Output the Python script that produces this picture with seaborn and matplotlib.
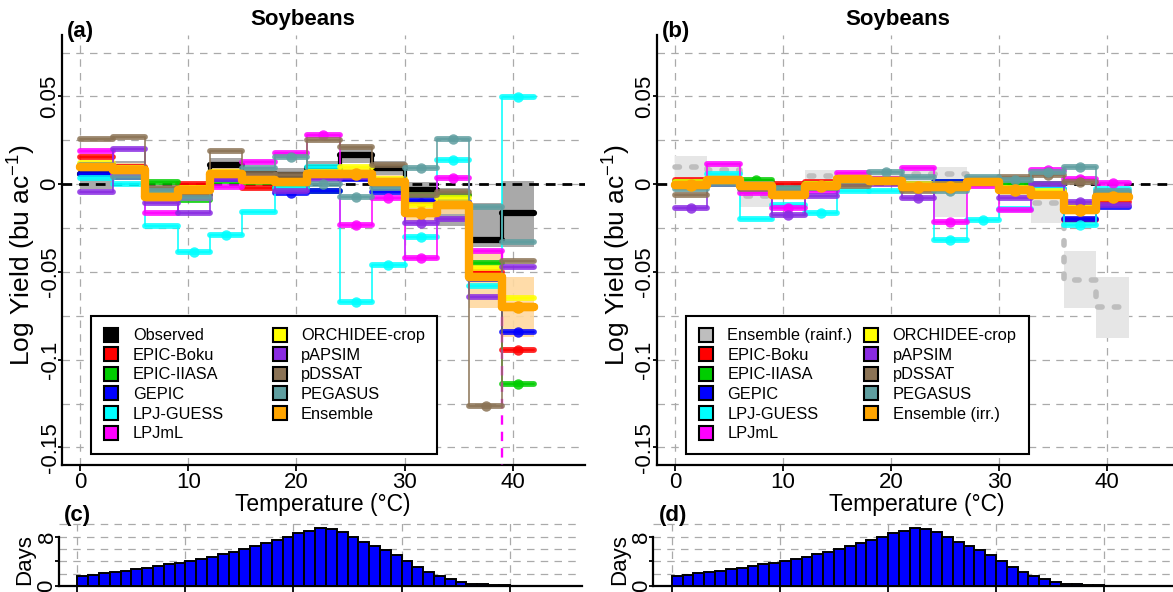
import numpy as np
import matplotlib
matplotlib.use("Agg")
import matplotlib.pyplot as plt
import seaborn as sns
from matplotlib.lines import Line2D
from matplotlib.ticker import MultipleLocator

# --------------------------------------------------
# Data
# --------------------------------------------------
temp_edges = [0, 3, 6, 9, 12, 15, 18, 21, 24, 27, 30, 33, 36, 39, 42]
temp_mid = [1.5, 4.5, 7.5, 10.5, 13.5, 16.5, 19.5, 22.5, 25.5, 28.5, 31.5, 34.5, 37.5, 40.5]

models = ["EPIC-Boku", "EPIC-IIASA", "GEPIC", "LPJ-GUESS", "LPJmL",
          "ORCHIDEE-crop", "pAPSIM", "pDSSAT", "PEGASUS"]
colors = {
    "Observed": "#000000",
    "EPIC-Boku": "#ff0000",
    "EPIC-IIASA": "#00cd00",
    "GEPIC": "#0000ff",
    "LPJ-GUESS": "#00ffff",
    "LPJmL": "#ff00ff",
    "ORCHIDEE-crop": "#ffff00",
    "pAPSIM": "#8a2be2",
    "pDSSAT": "#8b7355",
    "PEGASUS": "#5f9ea0",
    "Ensemble": "#ffa500",
    "Ensemble (irr.)": "#ffa500",
    "Ensemble (rainf.)": "#bebebe",
}

# panel (a): rainfed, observed vs models
obs_a = [0.006, 0.009, -0.005, -0.004, 0.011, 0.006, 0.005, 0.009, 0.0165, 0.009, -0.0034, -0.012, -0.032, -0.0167]
obs_lo_a = [-0.003, 0.004, -0.009, -0.008, 0.007, 0.002, 0.001, 0.005, 0.012, 0.005, -0.008, -0.024, -0.036, -0.036]
obs_hi_a = [0.012, 0.013, -0.001, 0.000, 0.015, 0.010, 0.009, 0.013, 0.021, 0.013, 0.001, -0.002, -0.011, 0.002]
ens_a = [0.0098, 0.008, -0.0072, -0.0034, 0.006, 0.0023, 0.001, 0.006, 0.006, 0.0013, -0.0167, -0.012, -0.053, -0.070]
ens_lo_a = [0.006, 0.004, -0.011, -0.007, 0.002, -0.001, -0.002, 0.002, 0.002, -0.002, -0.021, -0.017, -0.0705, -0.087]
ens_hi_a = [0.014, 0.012, -0.003, 0.000, 0.010, 0.006, 0.004, 0.010, 0.010, 0.005, -0.012, -0.007, -0.0375, -0.053]
boku_a = [0.0155, 0.010, -0.004, 0.000, 0.004, -0.0023, -0.002, 0.004, 0.0034, 0.000, -0.011, -0.006, -0.050, -0.0947]
iiasa_a = [0.011, 0.006, 0.001, -0.009, 0.002, 0.001, -0.002, -0.004, 0.004, 0.000, -0.0063, -0.0063, -0.045, -0.1138]
gepic_a = [0.006, 0.004, -0.006, -0.006, 0.003, 0.002, -0.005, -0.004, 0.003, -0.0044, -0.009, -0.010, -0.054, -0.084]
guess_a = [0.0034, 0.000, -0.024, -0.0385, -0.029, -0.0157, -0.002, 0.0098, -0.067, -0.046, -0.030, 0.0136, -0.058, 0.0496]
lpjml_a = [0.019, 0.005, -0.0167, -0.008, -0.0015, 0.0127, 0.018, 0.028, -0.0233, -0.008, -0.042, 0.0034, -0.038, -0.25]
orch_a = [0.012, 0.009, -0.004, -0.002, 0.007, 0.004, 0.002, 0.007, 0.010, 0.003, -0.012, -0.008, -0.048, -0.065]
papsim_a = [-0.0046, 0.020, -0.011, -0.0167, 0.003, 0.004, -0.004, 0.003, 0.004, 0.000, -0.022, -0.020, -0.064, -0.047]
pdssat_a = [0.0256, 0.027, -0.002, -0.006, 0.019, 0.006, 0.005, 0.025, 0.021, 0.011, -0.006, -0.0044, -0.1265, -0.0438]
pegasus_a = [0.011, 0.004, -0.004, -0.008, 0.006, 0.009, 0.0155, 0.000, -0.0074, -0.002, 0.009, 0.026, -0.013, -0.0328]
sig_a = {"EPIC-Boku": [10, 13], "EPIC-IIASA": [13], "GEPIC": [6, 13],
         "LPJ-GUESS": [3, 4, 8, 9, 10, 11, 13], "LPJmL": [7, 8, 9, 10, 11],
         "ORCHIDEE-crop": [], "pAPSIM": [10], "pDSSAT": [12],
         "PEGASUS": [6, 7, 8, 10, 11], "Ensemble": [8, 10, 13]}

# panel (b): irrigated
rain_b = [0.0098, 0.008, -0.007, -0.002, 0.0047, 0.002, 0.003, 0.006, 0.006, 0.001, -0.004, -0.011, -0.0545, -0.0697]
rain_lo_b = [-0.007, 0.000, -0.013, -0.006, 0.002, -0.002, -0.001, 0.002, -0.0186, -0.003, -0.008, -0.022, -0.0706, -0.0877]
rain_hi_b = [0.016, 0.012, -0.0015, 0.002, 0.008, 0.006, 0.007, 0.010, 0.0098, 0.005, 0.000, -0.009, -0.038, -0.0527]
irr_b = [-0.0006, 0.0023, -0.001, -0.006, -0.001, 0.0032, 0.002, -0.0015, -0.0015, 0.0013, -0.0034, -0.0063, -0.0148, -0.0072]
boku_b = [0.0023, 0.003, 0.001, 0.000, 0.0013, 0.002, 0.001, -0.001, 0.000, 0.002, -0.003, -0.004, -0.0205, -0.010]
iiasa_b = [0.001, 0.002, 0.0023, -0.003, 0.000, 0.002, 0.003, 0.000, 0.001, 0.001, 0.000, 0.000, -0.015, -0.006]
gepic_b = [-0.001, 0.000, -0.002, -0.004, -0.001, 0.000, 0.001, 0.000, 0.001, 0.000, -0.003, -0.003, -0.020, -0.013]
guess_b = [0.000, 0.006, -0.020, -0.012, -0.0167, -0.004, -0.004, -0.002, -0.0318, -0.0205, -0.014, -0.003, -0.0233, -0.003]
lpjml_b = [0.000, 0.0117, -0.0053, -0.0138, -0.004, 0.0064, 0.003, 0.0092, -0.0214, -0.001, -0.0148, 0.008, 0.0027, 0.0004]
orch_b = [0.001, 0.003, 0.000, -0.004, 0.000, 0.003, 0.002, 0.000, 0.000, 0.002, -0.002, -0.004, -0.012, -0.006]
papsim_b = [-0.0138, 0.000, -0.002, -0.0176, -0.007, 0.000, 0.000, -0.008, -0.002, 0.0023, -0.008, 0.000, -0.010, -0.012]
pdssat_b = [-0.006, 0.001, -0.003, -0.004, -0.002, -0.001, 0.002, -0.004, 0.000, 0.002, 0.004, 0.005, 0.001, -0.005]
pegasus_b = [-0.003, 0.000, 0.000, -0.002, -0.002, 0.002, 0.007, 0.004, -0.004, 0.004, 0.0023, 0.007, 0.0098, -0.004]
sig_b = {"EPIC-Boku": [], "EPIC-IIASA": [2], "GEPIC": [],
         "LPJ-GUESS": [4, 8, 9, 12], "LPJmL": [3, 8, 11, 12, 13],
         "ORCHIDEE-crop": [], "pAPSIM": [0, 3, 7, 12], "pDSSAT": [11, 12],
         "PEGASUS": [6, 8, 10, 11, 12], "Ensemble": [0, 4, 7, 8, 10, 12, 13]}

# panels (c)/(d): days per 1 degC bin
hist_edges = list(range(0, 48))
hist_mid = [t + 0.5 for t in range(0, 47)]
days = [1.68, 1.84, 2.05, 2.27, 2.49, 2.70, 2.97, 3.24, 3.51, 3.78, 4.05, 4.32,
        4.76, 5.14, 5.57, 6.00, 6.49, 6.92, 7.46, 7.89, 8.54, 8.97, 9.35, 9.19,
        8.70, 7.89, 7.19, 6.54, 5.84, 5.03, 4.11, 3.14, 2.32, 1.62, 1.08, 0.65,
        0.38, 0.27, 0.16, 0.10, 0.06, 0.04, 0.03, 0.02, 0.01, 0.01, 0.01]

yticks = [-0.15, -0.1, -0.05, 0, 0.05]
ytick_labels = ["-0.15", "-0.1", "-0.05", "0", "0.05"]
xticks = [0, 10, 20, 30, 40]

# --------------------------------------------------
# Setup
# --------------------------------------------------
sns.set_theme(style="white")
plt.rcParams["font.family"] = ["Liberation Sans", "DejaVu Sans"]
plt.rcParams["mathtext.default"] = "regular"
plt.rcParams["text.color"] = "black"

W, H = 1173, 592
YMIN, YMAX = -0.16, 0.085
XMIN, XMAX = -1.7, 46.7
GRID = dict(color="#aaaaaa", lw=0.9, ls=(0, (6, 5)))

fig = plt.figure(figsize=(W / 100, H / 100), dpi=100)


def add_px_axes(left, top, width, height):
    return fig.add_axes([left / W, 1 - (top + height) / H, width / W, height / H])


def style_main(ax):
    ax.set_xlim(XMIN, XMAX)
    ax.set_ylim(YMIN, YMAX)
    ax.set_axisbelow(True)
    for s in ["top", "right"]:
        ax.spines[s].set_visible(False)
    for s in ["left", "bottom"]:
        ax.spines[s].set_color("black")
        ax.spines[s].set_linewidth(1.6)
    ax.set_xticks(xticks)
    ax.set_xticklabels([str(t) for t in xticks])
    ax.set_yticks(yticks)
    ax.set_yticklabels(ytick_labels, rotation=90, va="center")
    ax.yaxis.set_minor_locator(MultipleLocator(0.025))
    ax.grid(True, which="both", axis="y", **GRID)
    ax.grid(True, which="major", axis="x", **GRID)
    ax.tick_params(which="major", direction="out", width=1.3, labelsize=16,
                   colors="black", left=True, bottom=True)
    ax.tick_params(axis="x", length=4.5, pad=0.5)
    ax.tick_params(axis="y", length=3, pad=-2)
    ax.tick_params(which="minor", length=0)
    ax.set_xlabel("")
    ax.set_ylabel("")


def band(ax, lo, hi, color, alpha=1.0):
    e = np.array(temp_edges, float)
    ax.fill_between(e, np.append(lo, lo[-1]), np.append(hi, hi[-1]), step="post",
                    color=color, alpha=alpha, lw=0, zorder=1.5)


def steps(ax, vals, color, sig=(), lw_h=4.2, lw_v=1.3, alpha=0.85, z=3, ms=7.5):
    y = np.array(vals, float)
    e = np.array(temp_edges, float)
    off = y < YMIN
    n = len(y) if not off.any() else int(np.argmax(off))
    yy = np.append(y[:n], y[n - 1])
    sns.lineplot(x=e[:n + 1], y=yy, drawstyle="steps-post", color=color, lw=lw_v,
                 alpha=alpha, zorder=z, ax=ax, estimator=None)
    lc = ax.hlines(y[:n], e[:n], e[1:n + 1], colors=color, lw=lw_h, alpha=alpha, zorder=z)
    lc.set_capstyle("round")
    if n < len(y):
        ax.plot([e[n], e[n]], [y[n - 1], y[n]], color=color, lw=lw_v * 1.3,
                ls=(0, (4, 3)), zorder=z)
    idx = [i for i in sig if i < n]
    if idx:
        ax.plot(np.array(temp_mid)[idx], y[idx], "o", ms=ms, color=color,
                alpha=alpha, zorder=z, mew=0)


def legend(ax, labels, left_px, top_px, colspace):
    handles = [Line2D([], [], marker="s", ms=10, mfc=colors[l], mec="black",
                      mew=1.5, ls="none") for l in labels]
    leg = ax.legend(handles, labels, ncol=2, loc="upper left",
                    bbox_to_anchor=(left_px / W, 1 - top_px / H),
                    bbox_transform=fig.transFigure, fontsize=11.8, frameon=True,
                    fancybox=False, framealpha=1, edgecolor="black", borderpad=0.75,
                    labelspacing=0.28, handletextpad=0.8, columnspacing=colspace,
                    handlelength=1.0, borderaxespad=0)
    leg.get_frame().set_linewidth(1.5)
    leg.set_zorder(10)


def style_hist(ax):
    sns.histplot(x=hist_mid, weights=days, bins=hist_edges, color="#0000ff",
                 edgecolor="black", linewidth=1.4, alpha=1, ax=ax, zorder=3)
    ax.set_xlim(XMIN, XMAX)
    ax.set_ylim(0, 10.15)
    ax.set_axisbelow(True)
    for s in ["top", "right"]:
        ax.spines[s].set_visible(False)
    for s in ["left", "bottom"]:
        ax.spines[s].set_color("black")
        ax.spines[s].set_linewidth(1.6)
    ax.spines["left"].set_bounds(0, 8)
    ax.set_xticks(xticks)
    ax.set_xticklabels([])
    ax.set_yticks([0, 4, 8])
    ax.set_yticklabels(["0", "", "8"], rotation=90, va="center")
    ax.yaxis.set_minor_locator(MultipleLocator(2))
    ax.grid(True, which="both", axis="y", **GRID)
    ax.grid(True, which="major", axis="x", **GRID)
    ax.tick_params(which="major", direction="out", width=1.3, labelsize=16,
                   colors="black", left=True, bottom=True, length=4.5)
    ax.tick_params(axis="y", length=3, pad=-2)
    ax.tick_params(which="minor", length=0)
    ax.set_xlabel("")
    ax.set_ylabel("")


# --------------------------------------------------
# Panel (a)
# --------------------------------------------------
DX = 594.5
ax_a = add_px_axes(62, 35, 523, 430)
style_main(ax_a)
band(ax_a, obs_lo_a, obs_hi_a, "#a9a9a9")
band(ax_a, ens_lo_a, ens_hi_a, "#ffd9a0", alpha=0.9)
ax_a.axhline(0, color="black", lw=2, ls=(0, (3.5, 2.5)), zorder=2)
steps(ax_a, obs_a, colors["Observed"], (), lw_h=4.5, lw_v=3, alpha=1, z=2.8)
series_a = [boku_a, iiasa_a, gepic_a, guess_a, lpjml_a, orch_a, papsim_a, pdssat_a, pegasus_a]
for name, vals in zip(models, series_a):
    steps(ax_a, vals, colors[name], sig_a[name])
steps(ax_a, ens_a, colors["Ensemble"], sig_a["Ensemble"], lw_h=6, lw_v=6, alpha=1, z=6, ms=9)
legend(ax_a, ["Observed"] + models + ["Ensemble"], 91, 316, 2.9)

# --------------------------------------------------
# Panel (b)
# --------------------------------------------------
ax_b = add_px_axes(62 + DX, 35, 523, 430)
style_main(ax_b)
band(ax_b, rain_lo_b, rain_hi_b, "#e6e6e6")
ax_b.axhline(0, color="black", lw=2, ls=(0, (3.5, 2.5)), zorder=2)
rl = sns.lineplot(x=temp_edges, y=rain_b + [rain_b[-1]], drawstyle="steps-post",
                  color=colors["Ensemble (rainf.)"], lw=4, ls=(0, (0.8, 2.2)),
                  ax=ax_b, estimator=None, zorder=2.5)
rl.lines[-1].set_dash_capstyle("round")
series_b = [boku_b, iiasa_b, gepic_b, guess_b, lpjml_b, orch_b, papsim_b, pdssat_b, pegasus_b]
for name, vals in zip(models, series_b):
    steps(ax_b, vals, colors[name], sig_b[name])
steps(ax_b, irr_b, colors["Ensemble"], sig_b["Ensemble"], lw_h=6, lw_v=6, alpha=1, z=6, ms=9)
legend(ax_b, ["Ensemble (rainf.)"] + models + ["Ensemble (irr.)"], 91 + DX, 316, 0.65)

# --------------------------------------------------
# Panels (c), (d)
# --------------------------------------------------
ax_c = add_px_axes(59, 523.4, 523, 62.6)
style_hist(ax_c)
ax_d = add_px_axes(59 + DX, 523.4, 523, 62.6)
style_hist(ax_d)

# --------------------------------------------------
# Text
# --------------------------------------------------
for off, tag, tag2 in [(0, "(a)", "(c)"), (DX, "(b)", "(d)")]:
    fig.text((303 + off) / W, 1 - 20 / H, "Soybeans", fontsize=16, fontweight="bold",
             ha="center", va="center")
    fig.text((67 + off) / W, 1 - 31 / H, tag, fontsize=16, fontweight="bold",
             ha="left", va="center")
    fig.text((64 + off) / W, 1 - 516 / H, tag2, fontsize=16, fontweight="bold",
             ha="left", va="center")
    fig.text((322.5 + off) / W, 1 - 505 / H, "Temperature (\u00b0C)", fontsize=16.5,
             ha="center", va="center")
    fig.text((22 + off) / W, 1 - 255 / H, "Log Yield (bu ac$^{-1}$)", fontsize=19,
             rotation=90, ha="center", va="center")
    fig.text((25 + off) / W, 1 - 560 / H, "Days", fontsize=16, rotation=90,
             ha="center", va="center")

fig.savefig("out.png", dpi=100)
